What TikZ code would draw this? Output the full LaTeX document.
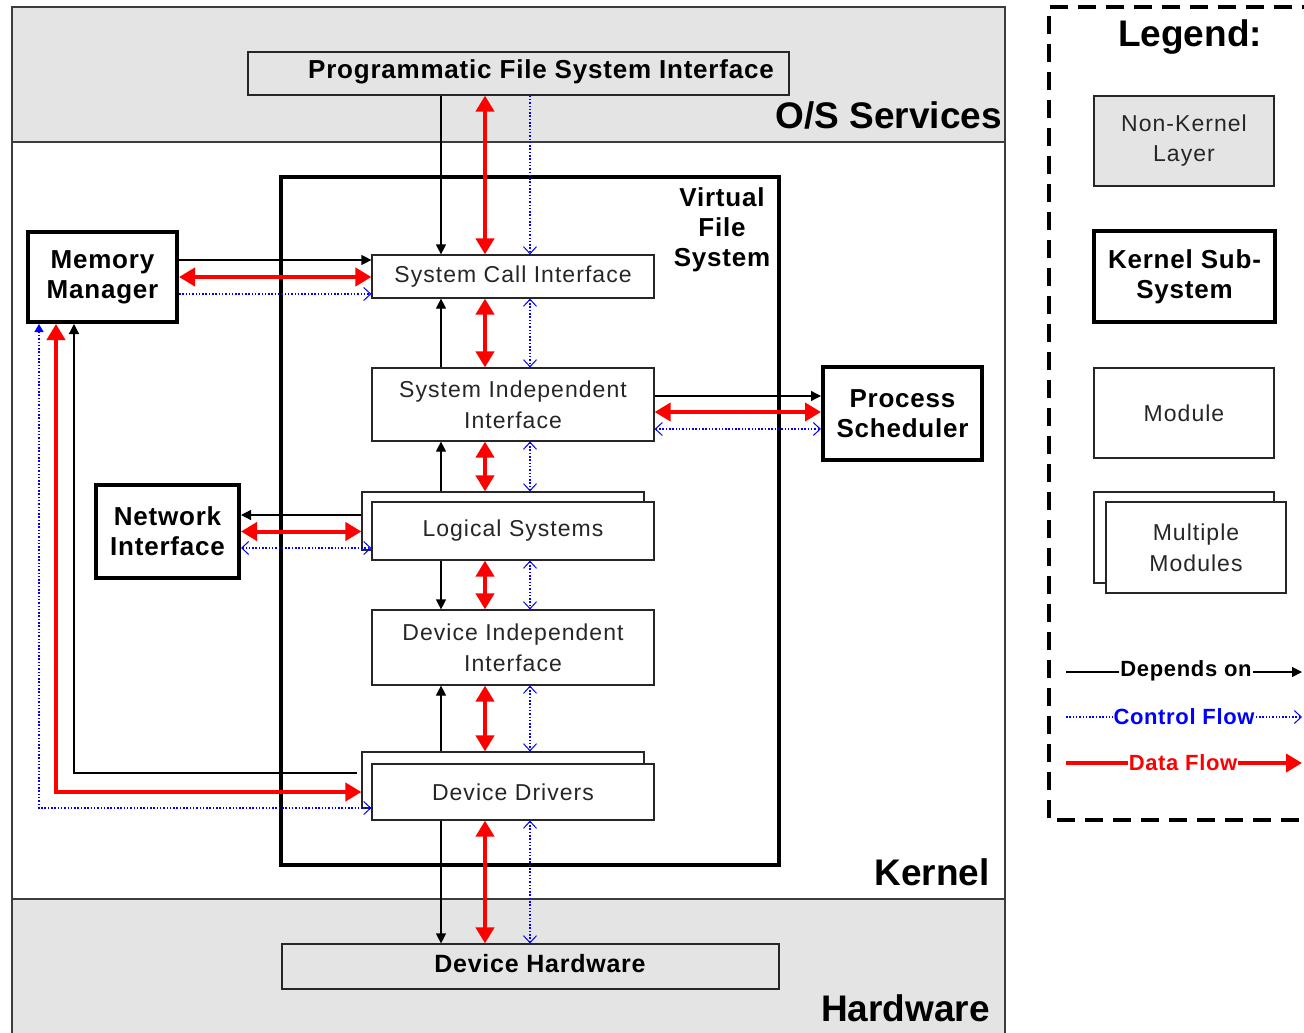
\documentclass[tikz,border=0pt]{standalone}
\usepackage{fontspec}
\setmainfont{Liberation Sans}
\newfontfamily\spfont[LetterSpace=4.5]{Liberation Sans}
\newfontfamily\bspfont[LetterSpace=3]{Liberation Sans}
\usetikzlibrary{arrows.meta,calc}
\definecolor{bandgray}{RGB}{228,228,228}
\definecolor{linegray}{RGB}{60,60,60}
\definecolor{dred}{RGB}{255,0,0}
\definecolor{dblue}{RGB}{0,0,255}
\tikzset{
  myblk/.tip={Triangle[length=10pt,width=10pt]},
  myred/.tip={Triangle[length=16pt,width=18pt]},
  myblu/.tip={Straight Barb[length=7pt,width=13pt,line width=1pt]},
  myblus/.tip={Triangle[length=8pt,width=9pt]},
}
\begin{document}
\begin{tikzpicture}[x=1pt,y=-1pt,
  module/.style={draw=black!85, line width=1.2pt, fill=white, inner sep=0pt, text=black!85,
    font=\spfont\fontsize{23}{31}\selectfont, align=center},
  subsys/.style={draw=black, line width=4pt, fill=white, inner sep=0pt,
    font=\bspfont\bfseries\fontsize{26}{30}\selectfont, align=center},
  graybox/.style={draw=black!85, line width=1.2pt, fill=bandgray, inner sep=0pt},
  boldtxt/.style={inner sep=0pt, font=\bspfont\bfseries\fontsize{26}{30}\selectfont, align=center},
  bandtxt/.style={inner sep=0pt, anchor=east, font=\bfseries\fontsize{37}{40}\selectfont},
  depline/.style={draw=black, line width=1.2pt},
  dataline/.style={draw=dred, line width=4pt},
  ctrlline/.style={draw=dblue, line width=1.3pt, dash pattern=on 1.5pt off 1.8pt},
  legtxt/.style={inner sep=1pt, font=\bspfont\bfseries\fontsize{22}{24}\selectfont},
]
\clip (0,0) rectangle (1304,1033);
\fill[white] (0,0) rectangle (1304,1033);

% ---------- bands ----------
\fill[bandgray] (12,7) rectangle (1005,142);
\fill[bandgray] (12,899) rectangle (1005,1040);
\draw[linegray, line width=1.2pt] (12,1040) -- (12,7) -- (1005,7) -- (1005,1040);
\draw[linegray, line width=1.2pt] (12,142) -- (1005,142);
\draw[linegray, line width=1.2pt] (12,899) -- (1005,899);
\node[bandtxt] (ossvc) at (1002,115) {O/S Services};
\node[bandtxt] (kern) at (990,872) {Kernel};
\node[bandtxt] (hw) at (990,1008) {Hardware};

% ---------- VFS ----------
\draw[line width=4.5pt] (281,177) rectangle (779,865);
\node[boldtxt] (vfstxt) at (722,230) {Virtual\\File\\System};

% ---------- boxes ----------
\node[graybox, minimum width=541pt, minimum height=43pt] (pfsi) at (518.5,73.5) {};
\node[boldtxt] (pfsitxt) at (541,72) {Programmatic File System Interface};
\node[graybox, minimum width=497pt, minimum height=45pt] (dh) at (530.5,966.5) {};
\node[boldtxt, font=\bspfont\bfseries\fontsize{25}{30}\selectfont] (dhtxt) at (540,964) {Device Hardware};

\node[module, minimum width=282pt, minimum height=43pt] (sci) at (513,276.5) {System Call Interface};
\node[module, minimum width=282pt, minimum height=73pt] (sii) at (513,404.5) {System Independent\\Interface};
\node[module, minimum width=282pt, minimum height=58pt] (lsb) at (503,521) {};
\node[module, minimum width=282pt, minimum height=58pt] (ls) at (513,531) {Logical Systems};
\node[module, minimum width=282pt, minimum height=75pt] (dii) at (513,647.5) {Device Independent\\Interface};
\node[module, minimum width=282pt, minimum height=56pt] (ddb) at (503,780) {};
\node[module, minimum width=282pt, minimum height=56pt] (dd) at (513,792) {Device Drivers};

\node[subsys, minimum width=149pt, minimum height=90pt] (mm) at (102.5,277) {Memory\\Manager};
\node[subsys, minimum width=143pt, minimum height=93pt] (ni) at (167.5,531.5) {Network\\Interface};
\node[subsys, minimum width=159pt, minimum height=93pt] (ps) at (902.5,413.5) {Process\\Scheduler};

% ---------- column coordinates ----------
\coordinate (cb) at (441,0);
\coordinate (cr) at (485,0);
\coordinate (cu) at (530,0);

% PFSI - SCI
\draw[depline,-{myblk}] (pfsi.south -| cb) -- (sci.north -| cb);
\draw[dataline,{myred}-{myred}] (pfsi.south -| cr) -- (sci.north -| cr);
\draw[ctrlline,-{myblu}] (pfsi.south -| cu) -- (sci.north -| cu);
% SCI - SII
\draw[depline,-{myblk}] (sii.north -| cb) -- (sci.south -| cb);
\draw[dataline,{myred}-{myred}] (sci.south -| cr) -- (sii.north -| cr);
\draw[ctrlline,{myblu}-{myblu}] (sci.south -| cu) -- (sii.north -| cu);
% SII - LS
\draw[depline,-{myblk}] (lsb.north -| cb) -- (sii.south -| cb);
\draw[dataline,{myred}-{myred}] (sii.south -| cr) -- (lsb.north -| cr);
\draw[ctrlline,{myblu}-{myblu}] (sii.south -| cu) -- (lsb.north -| cu);
% LS - DII
\draw[depline,-{myblk}] (ls.south -| cb) -- (dii.north -| cb);
\draw[dataline,{myred}-{myred}] (ls.south -| cr) -- (dii.north -| cr);
\draw[ctrlline,{myblu}-{myblu}] (ls.south -| cu) -- (dii.north -| cu);
% DII - DD
\draw[depline,-{myblk}] (ddb.north -| cb) -- (dii.south -| cb);
\draw[dataline,{myred}-{myred}] (dii.south -| cr) -- (ddb.north -| cr);
\draw[ctrlline,{myblu}-{myblu}] (dii.south -| cu) -- (ddb.north -| cu);
% DD - DH
\draw[depline,-{myblk}] (dd.south -| cb) -- (dh.north -| cb);
\draw[dataline,{myred}-{myred}] (dd.south -| cr) -- (dh.north -| cr);
\draw[ctrlline,{myblu}-{myblu}] (dd.south -| cu) -- (dh.north -| cu);

% MM - SCI
\coordinate (mmblk) at ($(mm.center)+(0,-17)$);
\coordinate (mmblu) at ($(mm.center)+(0,17)$);
\draw[depline,-{myblk}] (mm.east |- mmblk) -- (sci.west |- mmblk);
\draw[dataline,{myred}-{myred}] (mm.east) -- (mm.east -| sci.west);
\draw[ctrlline,-{myblu}] (mm.east |- mmblu) -- (sci.west |- mmblu);

% MM - DD
\coordinate (ddblk) at ($(dd.center)+(0,-19)$);
\coordinate (ddblu) at ($(dd.center)+(0,16)$);
\draw[ctrlline,{myblus}-{myblu}] ([xshift=13pt]mm.south west) |- (dd.west |- ddblu);
\draw[dataline,{myred}-{myred}] ([xshift=30pt]mm.south west) |- (ddb.west |- dd.center);
\draw[depline,{myblk}-] ([xshift=48pt]mm.south west) |- ([xshift=-4pt]ddb.west |- ddblk);

% NI - LS
\coordinate (niblk) at ($(ni.center)+(0,-16.5)$);
\coordinate (niblu) at ($(ni.center)+(0,16.5)$);
\draw[depline,-{myblk}] (lsb.west |- niblk) -- (ni.east |- niblk);
\draw[dataline,{myred}-{myred}] (ni.east) -- (ni.east -| lsb.west);
\draw[ctrlline,{myblu}-{myblu}] (ni.east |- niblu) -- (ls.west |- niblu);

% SII - PS
\coordinate (psblk) at ($(ps.center)+(0,-17.5)$);
\coordinate (psred) at ($(ps.center)+(0,-1.5)$);
\coordinate (psblu) at ($(ps.center)+(0,15.5)$);
\draw[depline,-{myblk}] (sii.east |- psblk) -- (ps.west |- psblk);
\draw[dataline,{myred}-{myred}] (sii.east |- psred) -- (ps.west |- psred);
\draw[ctrlline,{myblu}-{myblu}] (sii.east |- psblu) -- (ps.west |- psblu);

% ---------- legend ----------
\draw[line width=4pt, dash pattern=on 18pt off 10pt] (1320,7) -- (1049,7) -- (1049,820) -- (1320,820);
\node[inner sep=0pt, font=\bfseries\fontsize{37}{40}\selectfont] (legtitle) at (1190,37) {Legend:};
\node[graybox, minimum width=180pt, minimum height=90pt, text=black!85,
  font=\spfont\fontsize{23}{30}\selectfont, align=center] (lnk) at (1184,141) {Non-Kernel\\Layer};
\node[subsys, minimum width=181pt, minimum height=91pt] (lks) at (1184.5,276.5) {Kernel Sub-\\System};
\node[module, minimum width=180pt, minimum height=90pt] (lmod) at (1184,413) {Module};
\node[module, minimum width=180pt, minimum height=91pt] (lmmb) at (1184,537.5) {};
\node[module, minimum width=180pt, minimum height=91pt] (lmm) at (1196,547.5) {Multiple\\Modules};

\node[legtxt] (ldep) at (1186,671) {Depends on};
\coordinate (ldep0) at (1066,672);
\coordinate (ldep1) at (1302,672);
\draw[depline] (ldep0) -- (ldep0 -| ldep.west);
\draw[depline,-{myblk}] (ldep.east |- ldep0) -- (ldep1);

\node[legtxt, text=dblue] (lctl) at (1184,717) {Control Flow};
\coordinate (lctl0) at (1066,717);
\coordinate (lctl1) at (1302,717);
\draw[ctrlline] (lctl0) -- (lctl0 -| lctl.west);
\draw[ctrlline,-{myblu}] (lctl.east |- lctl0) -- (lctl1);

\node[legtxt, text=dred] (ldat) at (1183,763) {Data Flow};
\coordinate (ldat0) at (1066,763);
\coordinate (ldat1) at (1302,763);
\draw[dataline] (ldat0) -- (ldat0 -| ldat.west);
\draw[dataline,-{myred}] (ldat.east |- ldat0) -- (ldat1);
\end{tikzpicture}
\end{document}
